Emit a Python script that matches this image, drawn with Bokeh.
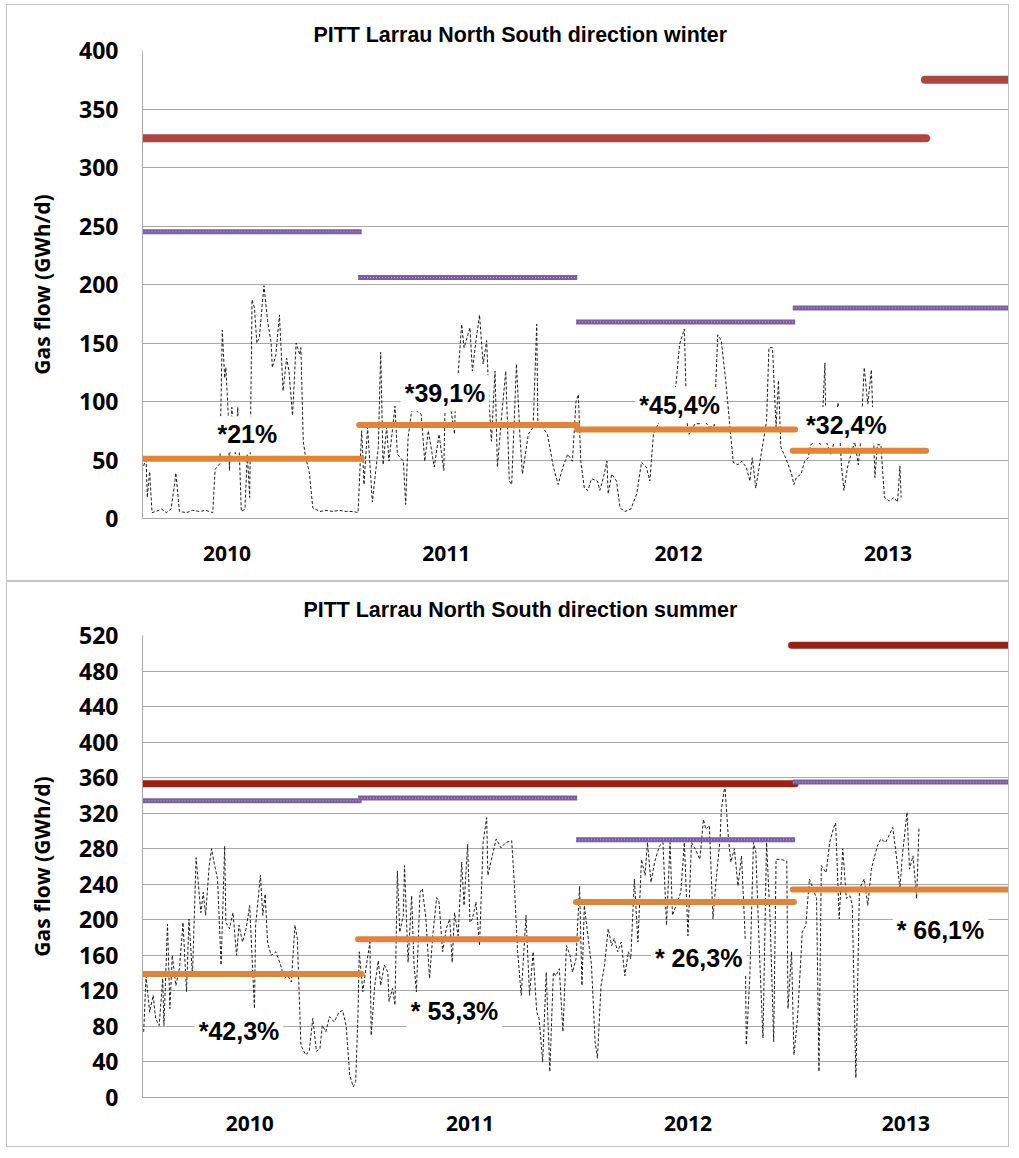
from bokeh.plotting import figure
from bokeh.models import Range1d, FixedTicker, Label, BoxAnnotation, ColumnDataSource
from bokeh.layouts import column
from bokeh.embed import file_html
from bokeh.resources import INLINE

# ---------------- data ----------------
years = ["2010", "2011", "2012", "2013"]
season_days = 182  # one season per year on the x axis (day index)

# winter daily flow (day index, GWh/d)
winter_day = [1, 3, 4, 6, 8, 11, 16, 20, 24, 27, 28, 31, 37, 42, 48, 53, 59, 61, 65, 67, 69, 70, 72, 73, 75, 78, 80, 83, 86, 88, 90,
              92, 94, 96, 98, 102, 105, 108, 109, 112, 115, 118, 121, 123, 126, 129, 132, 133, 135, 137, 140, 143, 149, 154, 160,
              165, 171, 177, 181,
              184, 186, 189, 193, 198, 200, 202, 205, 207, 212, 214, 219, 221, 223, 226, 230, 234, 237, 240, 245, 249, 253, 254,
              258, 262, 263, 265, 268, 270, 275, 277, 280, 283, 286, 289, 291, 293, 296, 298, 301, 305, 308, 310, 314, 317, 319,
              324, 328, 331, 332, 336, 340, 345, 349, 353, 357, 361,
              364, 366, 368, 371, 374, 377, 382, 384, 387, 390, 391, 394, 398, 401, 405, 410, 415, 419, 423, 426, 429, 433, 437,
              444, 448, 451, 455, 457, 459, 464, 468, 472, 476, 480, 483, 486, 490, 493, 496, 500, 503, 507, 510, 512, 515, 519,
              524, 526, 529, 532, 534, 536, 540, 545, 547,
              549, 553, 556, 559, 561, 566, 570, 573, 574, 578, 581, 584, 587, 589, 592, 595, 598, 601, 603, 606, 609, 612, 615,
              617, 620, 623, 627, 631, 634, 636, 637]
winter_flow = [45, 52, 18, 40, 5, 6, 8, 5, 8, 30, 39, 6, 5, 7, 6, 7, 5, 42, 47, 161, 120, 129, 89, 41, 95, 55, 95, 6, 8, 55, 18,
               187, 180, 150, 154, 199, 169, 150, 129, 140, 174, 109, 137, 126, 88, 150, 140, 146, 66, 52, 40, 9, 6, 7, 6,
               7, 6, 6, 5,
               75, 29, 78, 14, 61, 142, 46, 78, 49, 96, 55, 49, 12, 69, 92, 92, 89, 49, 75, 44, 72, 41, 92,
               100, 72, 109, 123, 166, 146, 163, 126, 152, 174, 132, 152, 100, 66, 126, 44, 81, 126, 32, 29, 132, 69, 38,
               72, 78, 166, 81, 78, 72, 44, 29, 44, 55, 49,
               100, 106, 49, 26, 24, 34, 32, 24, 35, 49, 21, 38, 32, 9, 6, 8, 21, 48, 44, 32, 72, 81, 86,
               86, 115, 149, 162, 83, 72, 81, 81, 83, 78, 79, 157, 152, 115, 81, 48, 46, 49, 44, 32, 52, 26, 52,
               83, 146, 146, 78, 118, 61, 52, 38, 29,
               35, 38, 49, 52, 63, 66, 63, 133, 66, 55, 66, 99, 44, 24, 44, 55, 66, 46, 66, 129, 98, 127, 35,
               63, 63, 18, 15, 18, 14, 45, 18]

# summer daily flow (day index, GWh/d)
summer_day = [1, 3, 6, 9, 11, 14, 17, 18, 21, 23, 25, 28, 31, 34, 37, 39, 42, 45, 49, 51, 53, 56, 58, 60, 63, 66, 69, 70, 73, 76,
              79, 81, 84, 87, 90, 94, 95, 99, 101, 103, 105, 108, 112, 116, 119, 122, 125, 128, 130, 133, 137, 140, 143, 146,
              149, 151, 154, 157, 161, 165, 168, 171, 174, 177, 179, 181,
              182, 185, 188, 191, 192, 195, 198, 200, 203, 206, 207, 210, 212, 214, 216, 219, 220, 223, 226, 228, 230, 233, 235,
              238, 241, 244, 247, 249, 252, 255, 258, 260, 262, 265, 268, 270, 273, 275, 277, 280, 283, 286, 289, 290, 293, 297,
              301, 305, 310, 312, 315, 318, 322, 325, 328, 331, 333, 336, 339, 342, 345, 347, 350, 353, 356, 359, 361,
              364, 367, 369, 371, 374, 377, 380, 382, 385, 388, 391, 394, 396, 399, 402, 405, 408, 410, 413, 416, 419, 422, 424,
              427, 430, 434, 437, 440, 443, 445, 448, 452, 455, 458, 461, 464, 468, 471, 473, 476, 479, 482, 485, 486, 489, 492,
              494, 497, 500, 503, 506, 507, 510, 513, 515, 518, 521, 524, 527, 530, 532, 536, 541, 542, 545, 547,
              550, 554, 557, 560, 563, 566, 568, 570, 574, 577, 580, 582, 585, 588, 591, 594, 596, 599, 602, 606, 609, 612, 617,
              620, 624, 630, 633, 636, 638, 642, 644, 647, 650, 652]
summer_flow = [74, 137, 96, 115, 89, 81, 134, 81, 195, 100, 160, 126, 145, 197, 119, 201, 137, 270, 208, 231, 205, 261, 280, 265,
               246, 149, 283, 197, 190, 208, 160, 194, 175, 190, 216, 100, 194, 250, 205, 229, 175, 160, 164, 149, 134, 137, 130,
               194, 179, 59, 48, 52, 89, 52, 55, 81, 74, 91, 85, 96, 98, 81, 25, 12, 18, 96,
               164, 119, 149, 175, 70, 126, 154, 126, 149, 141, 108, 123, 104, 255, 186, 205, 261, 152, 227, 149, 119, 231, 235,
               201, 134, 186, 225, 220, 164, 190, 201, 152, 208, 182, 265, 216, 285, 197, 201, 220, 171, 287, 315, 250, 268, 291,
               281, 287, 289, 246, 164, 115, 205, 115, 164, 96, 89, 40, 141, 29, 141, 137, 145, 74, 171, 160, 141,
               156, 238, 126, 216, 182, 149, 63, 44, 126, 149, 190, 171, 179, 164, 175, 137, 164, 156, 246, 175, 268, 250, 287,
               242, 265, 283, 287, 194, 287, 205, 216, 231, 287, 182, 287, 280, 268, 313, 302, 306, 201, 250, 291, 324, 351, 291,
               265, 280, 238, 272, 182, 59, 137, 287, 276, 164, 67, 287, 201, 63, 268, 268, 266, 100, 164, 48,
               89, 186, 194, 246, 235, 224, 29, 261, 253, 287, 302, 309, 201, 280, 224, 227, 216, 22, 235, 246, 216, 257, 283,
               291, 287, 304, 272, 235, 272, 321, 257, 272, 224, 304]

# winter reference levels per period
winter_avg = [51, 80, 76, 58]
winter_avg_start = [0, 182, 365, 546]
winter_avg_end = [184, 365, 548, 658]
winter_tech = [245, 206, 168, 180]
winter_tech_start = [0, 181, 364, 546]
winter_tech_end = [184, 365, 548, 730]
winter_cap = [325, 375]
winter_cap_start = [0, 657]
winter_cap_end = [658, 730]
winter_pct = ["*21%", "*39,1%", "*45,4%", "*32,4%"]
winter_pct_day = [88, 254, 451, 591]
winter_pct_flow = [72, 107, 97, 80]
winter_year_day = [71, 255, 450, 626]
winter_yticks = [0, 50, 100, 150, 200, 250, 300, 350, 400]

# summer reference levels per period
summer_avg = [139, 178, 220, 234]
summer_avg_start = [0, 181, 364, 546]
summer_avg_end = [184, 365, 547, 730]
summer_tech = [334, 337, 290, 355]
summer_tech_start = [0, 181, 364, 546]
summer_tech_end = [184, 365, 548, 730]
summer_cap = [353, 509]
summer_cap_start = [0, 545]
summer_cap_end = [548, 730]
summer_pct = ["*42,3%", "* 53,3%", "* 26,3%", "* 66,1%"]
summer_pct_day = [81, 262, 467, 670]
summer_pct_flow = [75, 97, 157, 189]
summer_year_day = [90, 275, 458, 641]
summer_yticks = [0, 40, 80, 120, 160, 200, 240, 280, 320, 360, 400, 440, 480, 520]

ORANGE = "#e0843a"
PURPLE = "#7b5ea3"
PURPLE_LIGHT = "#b9a7d3"
GRID = "#a8a8a8"


def make_panel(title, title_offset, title_standoff, height, top, bottom, ymax, yticks,
               day, flow, avg, avg_s, avg_e, tech, tech_s, tech_e, cap, cap_s, cap_e, cap_color, cap_w,
               pct, pct_d, pct_f, year_day, year_standoff, margin):
    p = figure(width=1003, height=height, output_backend="svg", toolbar_location=None,
               x_range=Range1d(0, 4 * season_days), y_range=Range1d(0, ymax),
               min_border_left=135, min_border_right=1, min_border_top=top, min_border_bottom=bottom)
    p.margin = margin
    p.outline_line_color = None
    p.background_fill_color = "white"
    p.styles = {"border": "1px solid #c4c4c4"}

    p.title.text = title
    p.title.align = "left"
    p.title.offset = title_offset
    p.title.standoff = title_standoff
    p.title.text_font = "Liberation Sans"
    p.title.text_font_size = "21.4px"
    p.title.text_font_style = "bold"
    p.title.text_color = "black"

    p.xgrid.visible = False
    p.ygrid.grid_line_color = GRID
    p.ygrid.grid_line_width = 1

    p.yaxis.ticker = FixedTicker(ticks=yticks)
    p.yaxis.major_tick_line_color = None
    p.yaxis.minor_tick_line_color = None
    p.yaxis.major_tick_out = 0
    p.yaxis.major_label_standoff = 24
    p.yaxis.major_label_text_font = "Open Sans"
    p.yaxis.major_label_text_font_size = "23px"
    p.yaxis.major_label_text_font_style = "bold"
    p.yaxis.major_label_text_color = "black"
    p.yaxis.axis_line_color = GRID
    p.yaxis.axis_label = "Gas flow (GWh/d)"
    p.yaxis.axis_label_text_font = "Open Sans"
    p.yaxis.axis_label_text_font_size = "21px"
    p.yaxis.axis_label_text_font_style = "bold"
    p.yaxis.axis_label_text_color = "black"
    p.yaxis.axis_label_standoff = 20

    p.xaxis.ticker = FixedTicker(ticks=year_day)
    p.xaxis.major_label_overrides = {d: y for d, y in zip(year_day, years)}
    p.xaxis.major_tick_line_color = None
    p.xaxis.minor_tick_line_color = None
    p.xaxis.major_tick_out = 0
    p.xaxis.major_label_standoff = year_standoff
    p.xaxis.major_label_text_font = "Open Sans"
    p.xaxis.major_label_text_font_size = "21px"
    p.xaxis.major_label_text_font_style = "bold"
    p.xaxis.major_label_text_color = "black"
    p.xaxis.axis_line_color = GRID

    p.line(day, flow, line_color="#1a1a1a", line_width=1, line_dash="3 2")

    cap_src = ColumnDataSource(dict(x0=cap_s, x1=cap_e, y=cap))
    p.segment("x0", "y", "x1", "y", source=cap_src, line_color=cap_color, line_width=cap_w, line_cap="round")

    tech_src = ColumnDataSource(dict(x0=tech_s, x1=tech_e, y=tech))
    p.segment("x0", "y", "x1", "y", source=tech_src, line_color=PURPLE, line_width=5)
    p.segment("x0", "y", "x1", "y", source=tech_src, line_color=PURPLE_LIGHT, line_width=1, line_dash="1 2")

    avg_src = ColumnDataSource(dict(x0=avg_s, x1=avg_e, y=avg))
    p.segment("x0", "y", "x1", "y", source=avg_src, line_color=ORANGE, line_width=6, line_cap="round")

    for t, d, f in zip(pct, pct_d, pct_f):
        p.add_layout(Label(x=d, y=f, text=t, text_align="center", text_baseline="middle",
                           text_font="Liberation Sans", text_font_size="25px", text_font_style="bold",
                           text_color="black", background_fill_color="white", padding=4))
    return p


p1 = make_panel("PITT Larrau North South direction winter", 171, 8, 577, 45, 64, 400, winter_yticks,
                winter_day, winter_flow, winter_avg, winter_avg_start, winter_avg_end,
                winter_tech, winter_tech_start, winter_tech_end,
                winter_cap, winter_cap_start, winter_cap_end, "#ab4642", 8,
                winter_pct, winter_pct_day, winter_pct_flow, winter_year_day, 27, (4, 0, 0, 6))
# the title box hides the upper gridline on its left part
p1.add_layout(BoxAnnotation(left=0, right=645, bottom=397, fill_color="white", fill_alpha=1, line_color=None))

p2 = make_panel("PITT Larrau North South direction summer", 161, 27, 566, 51, 51, 520, summer_yticks,
                summer_day, summer_flow, summer_avg, summer_avg_start, summer_avg_end,
                summer_tech, summer_tech_start, summer_tech_end,
                summer_cap, summer_cap_start, summer_cap_end, "#9b2110", 7,
                summer_pct, summer_pct_day, summer_pct_flow, summer_year_day, 18, (0, 0, 0, 6))

layout = column(p1, p2, spacing=0)
open("out.html", "w").write(file_html(layout, INLINE))
